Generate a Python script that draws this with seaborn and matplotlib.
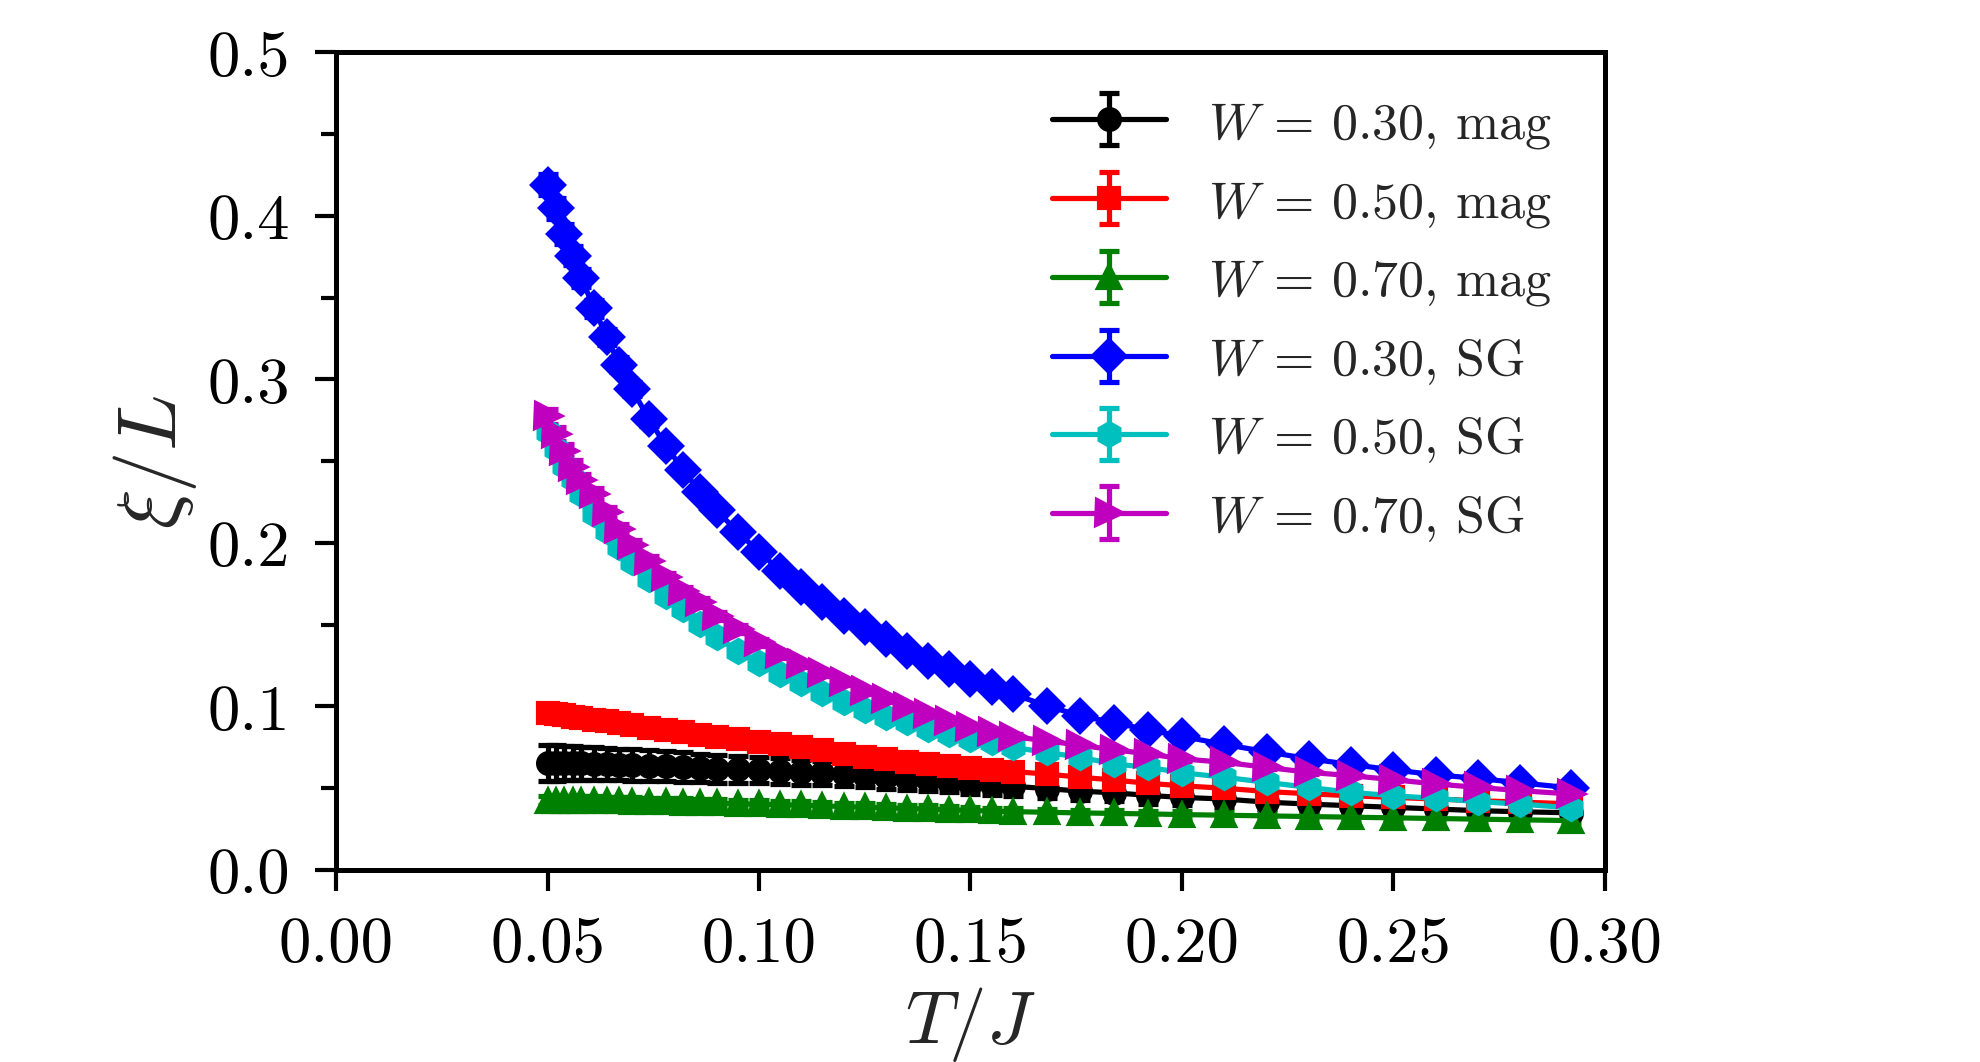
import numpy as np
import pandas as pd
import matplotlib
matplotlib.use("Agg")
import matplotlib.pyplot as plt
import seaborn as sns
from matplotlib.ticker import MultipleLocator, FormatStrFormatter

# temperature grid (T/J)
T = [0.050, 0.052, 0.054, 0.056, 0.058, 0.061, 0.064, 0.067, 0.070, 0.074,
     0.078, 0.082, 0.086, 0.090, 0.095, 0.100, 0.105, 0.110, 0.115, 0.120,
     0.125, 0.130, 0.135, 0.140, 0.145, 0.150, 0.155, 0.160, 0.168, 0.176,
     0.184, 0.192, 0.200, 0.210, 0.220, 0.230, 0.240, 0.250, 0.260, 0.270,
     0.280, 0.292]

# xi/L, magnetic correlation length
mag_030 = [0.0655, 0.0655, 0.0654, 0.0653, 0.0652, 0.0650, 0.0648, 0.0645, 0.0642, 0.0638,
           0.0634, 0.0630, 0.0625, 0.0620, 0.0615, 0.0610, 0.0604, 0.0598, 0.0592, 0.0587,
           0.0577, 0.0567, 0.0558, 0.0548, 0.0538, 0.0528, 0.0518, 0.0512, 0.0498, 0.0482,
           0.0472, 0.0456, 0.0444, 0.0434, 0.0415, 0.0403, 0.0393, 0.0383, 0.0373, 0.0363,
           0.0356, 0.0350]
mag_030_err = [0.0110, 0.0108, 0.0106, 0.0105, 0.0103, 0.0101, 0.0099, 0.0097, 0.0095, 0.0093,
               0.0091, 0.0089, 0.0087, 0.0085, 0.0083, 0.0081, 0.0079, 0.0077, 0.0075, 0.0073,
               0.0071, 0.0069, 0.0067, 0.0065, 0.0063, 0.0061, 0.0059, 0.0058, 0.0056, 0.0054,
               0.0052, 0.0050, 0.0048, 0.0046, 0.0044, 0.0042, 0.0040, 0.0038, 0.0036, 0.0034,
               0.0032, 0.0030]

mag_050 = [0.0960, 0.0952, 0.0945, 0.0938, 0.0930, 0.0920, 0.0908, 0.0896, 0.0885, 0.0870,
           0.0855, 0.0841, 0.0828, 0.0815, 0.0799, 0.0784, 0.0768, 0.0752, 0.0735, 0.0712,
           0.0692, 0.0678, 0.0662, 0.0648, 0.0637, 0.0623, 0.0611, 0.0602, 0.0587, 0.0567,
           0.0550, 0.0530, 0.0515, 0.0500, 0.0480, 0.0466, 0.0454, 0.0444, 0.0434, 0.0424,
           0.0415, 0.0405]
mag_050_err = [0.0030, 0.0030, 0.0029, 0.0029, 0.0028, 0.0028, 0.0027, 0.0027, 0.0026, 0.0026,
               0.0025, 0.0025, 0.0024, 0.0024, 0.0023, 0.0023, 0.0022, 0.0022, 0.0021, 0.0021,
               0.0020, 0.0020, 0.0019, 0.0019, 0.0018, 0.0018, 0.0017, 0.0017, 0.0016, 0.0016,
               0.0015, 0.0015, 0.0014, 0.0014, 0.0013, 0.0013, 0.0012, 0.0012, 0.0011, 0.0011,
               0.0010, 0.0010]

mag_070 = [0.0425, 0.0425, 0.0424, 0.0424, 0.0423, 0.0422, 0.0421, 0.0420, 0.0418, 0.0416,
           0.0414, 0.0412, 0.0410, 0.0408, 0.0405, 0.0402, 0.0399, 0.0396, 0.0392, 0.0388,
           0.0384, 0.0380, 0.0376, 0.0372, 0.0368, 0.0364, 0.0360, 0.0357, 0.0353, 0.0349,
           0.0346, 0.0343, 0.0339, 0.0335, 0.0331, 0.0327, 0.0323, 0.0319, 0.0315, 0.0311,
           0.0307, 0.0302]
mag_070_err = [0.0030, 0.0030, 0.0030, 0.0029, 0.0029, 0.0029, 0.0028, 0.0028, 0.0028, 0.0027,
               0.0027, 0.0027, 0.0026, 0.0026, 0.0026, 0.0025, 0.0025, 0.0025, 0.0024, 0.0024,
               0.0024, 0.0023, 0.0023, 0.0023, 0.0022, 0.0022, 0.0022, 0.0021, 0.0021, 0.0021,
               0.0020, 0.0020, 0.0020, 0.0019, 0.0019, 0.0019, 0.0018, 0.0018, 0.0018, 0.0017,
               0.0017, 0.0017]

# xi/L, spin glass correlation length
sg_030 = [0.4190, 0.4045, 0.3890, 0.3755, 0.3620, 0.3435, 0.3260, 0.3090, 0.2940, 0.2755,
          0.2594, 0.2448, 0.2312, 0.2198, 0.2066, 0.1945, 0.1830, 0.1732, 0.1640, 0.1554,
          0.1483, 0.1411, 0.1340, 0.1279, 0.1228, 0.1170, 0.1120, 0.1076, 0.1004, 0.0943,
          0.0900, 0.0857, 0.0817, 0.0768, 0.0723, 0.0680, 0.0645, 0.0612, 0.0582, 0.0560,
          0.0533, 0.0502]
sg_030_err = [0.0065, 0.0062, 0.0060, 0.0057, 0.0055, 0.0052, 0.0049, 0.0046, 0.0044, 0.0041,
              0.0038, 0.0036, 0.0034, 0.0032, 0.0030, 0.0028, 0.0026, 0.0025, 0.0024, 0.0023,
              0.0022, 0.0021, 0.0020, 0.0019, 0.0018, 0.0017, 0.0016, 0.0016, 0.0015, 0.0014,
              0.0014, 0.0013, 0.0013, 0.0012, 0.0012, 0.0011, 0.0011, 0.0010, 0.0010, 0.0010,
              0.0009, 0.0009]

sg_050 = [0.2680, 0.2573, 0.2471, 0.2390, 0.2298, 0.2176, 0.2074, 0.1972, 0.1881, 0.1779,
          0.1677, 0.1595, 0.1504, 0.1422, 0.1340, 0.1265, 0.1198, 0.1142, 0.1081, 0.1030,
          0.0979, 0.0938, 0.0903, 0.0862, 0.0831, 0.0801, 0.0780, 0.0750, 0.0719, 0.0689,
          0.0648, 0.0628, 0.0595, 0.0567, 0.0536, 0.0505, 0.0475, 0.0454, 0.0438, 0.0418,
          0.0403, 0.0380]
sg_050_err = [0.0040, 0.0038, 0.0037, 0.0035, 0.0034, 0.0032, 0.0031, 0.0029, 0.0028, 0.0026,
              0.0025, 0.0024, 0.0023, 0.0022, 0.0021, 0.0020, 0.0019, 0.0018, 0.0017, 0.0016,
              0.0015, 0.0015, 0.0014, 0.0014, 0.0013, 0.0013, 0.0012, 0.0012, 0.0011, 0.0011,
              0.0010, 0.0010, 0.0010, 0.0009, 0.0009, 0.0009, 0.0008, 0.0008, 0.0008, 0.0007,
              0.0007, 0.0007]

sg_070 = [0.2773, 0.2665, 0.2563, 0.2465, 0.2385, 0.2298, 0.2186, 0.2084, 0.1985, 0.1891,
          0.1789, 0.1707, 0.1636, 0.1554, 0.1473, 0.1391, 0.1320, 0.1260, 0.1203, 0.1147,
          0.1096, 0.1045, 0.0994, 0.0954, 0.0913, 0.0872, 0.0842, 0.0815, 0.0790, 0.0762,
          0.0735, 0.0710, 0.0680, 0.0658, 0.0628, 0.0597, 0.0577, 0.0552, 0.0526, 0.0505,
          0.0485, 0.0465]
sg_070_err = [0.0045, 0.0043, 0.0041, 0.0039, 0.0037, 0.0035, 0.0033, 0.0031, 0.0030, 0.0028,
              0.0027, 0.0026, 0.0025, 0.0024, 0.0023, 0.0022, 0.0021, 0.0020, 0.0019, 0.0018,
              0.0017, 0.0017, 0.0016, 0.0016, 0.0015, 0.0015, 0.0014, 0.0014, 0.0013, 0.0013,
              0.0012, 0.0012, 0.0011, 0.0011, 0.0011, 0.0010, 0.0010, 0.0010, 0.0009, 0.0009,
              0.0009, 0.0008]

labels = [r"$W\,=\,0.30$, mag", r"$W\,=\,0.50$, mag", r"$W\,=\,0.70$, mag",
          r"$W\,=\,0.30$, SG", r"$W\,=\,0.50$, SG", r"$W\,=\,0.70$, SG"]
values = [mag_030, mag_050, mag_070, sg_030, sg_050, sg_070]
errors = [mag_030_err, mag_050_err, mag_070_err, sg_030_err, sg_050_err, sg_070_err]
colors = ["#000000", "#ff0000", "#008000", "#0000ff", "#00bfbf", "#bf00bf"]
markers = ["o", "s", "^", "D", "h", ">"]
sizes = [5, 5, 5.5, 5.5, 5.5, 6]

frames = []
for lab, v, e in zip(labels, values, errors):
    frames.append(pd.DataFrame({"T": T, "xi": v, "err": e, "series": lab}))
df = pd.concat(frames, ignore_index=True)

sns.set_theme(style="ticks")
plt.rcParams.update({
    "font.family": "serif",
    "font.serif": ["cmr10"],
    "mathtext.fontset": "cm",
    "axes.formatter.use_mathtext": True,
    "axes.linewidth": 1.2,
    "axes.edgecolor": "black",
    "xtick.color": "black",
    "ytick.color": "black",
    "xtick.major.width": 1.0,
    "ytick.major.width": 1.0,
    "ytick.minor.width": 1.0,
    "xtick.major.size": 5,
    "ytick.major.size": 5,
    "ytick.minor.size": 3.5,
    "xtick.major.pad": 6,
    "ytick.major.pad": 6,
})

fig = plt.figure(figsize=(6.6, 3.5433), dpi=300)
ax = fig.add_axes([0.1697, 0.1806, 0.6409, 0.7694])

for lab, col, mk, ms in zip(labels, colors, markers, sizes):
    d = df[df["series"] == lab]
    ax.errorbar(d["T"], d["xi"], yerr=d["err"], color=col, marker=mk, ms=ms,
                mec=col, mfc=col, lw=1.25, elinewidth=1.25, capsize=2.5,
                capthick=1.25, label=lab)

ax.set_xlim(0, 0.30)
ax.set_ylim(0, 0.5)
ax.xaxis.set_major_locator(MultipleLocator(0.05))
ax.yaxis.set_major_locator(MultipleLocator(0.1))
ax.yaxis.set_minor_locator(MultipleLocator(0.05))
ax.xaxis.set_major_formatter(FormatStrFormatter("%.2f"))
ax.yaxis.set_major_formatter(FormatStrFormatter("%.1f"))
ax.tick_params(axis="both", which="both", direction="out", labelsize=15.5,
               top=False, right=False)

ax.set_xlabel(r"$T/J$", fontsize=18, labelpad=2.5)
ax.set_ylabel(r"$\xi/L$", fontsize=20, labelpad=2)

ax.legend(loc="upper right", bbox_to_anchor=(0.975, 0.967), frameon=False,
          fontsize=12.5, handlelength=2.2, handletextpad=0.8,
          labelspacing=0.55, borderaxespad=0.0)

fig.savefig("out.png", dpi=300)
